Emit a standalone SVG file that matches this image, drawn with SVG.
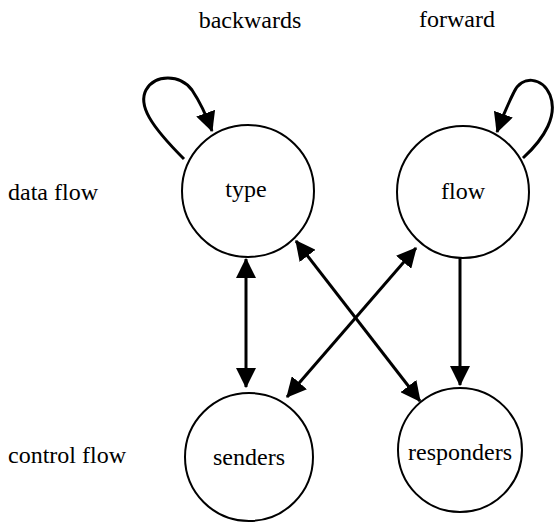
<svg xmlns="http://www.w3.org/2000/svg" width="558" height="529" viewBox="0 0 558 529">
<style>
.node circle{fill:#fff;stroke:#000;stroke-width:2}
text{font-family:"Liberation Serif","Times New Roman",serif;font-size:24px;fill:#000}
.c{text-anchor:middle}
#connectors path{fill:none;stroke:#000;stroke-width:3}
</style>
<defs>
<marker id="ah" markerUnits="userSpaceOnUse" markerWidth="20" markerHeight="20" viewBox="0 0 18 18" refX="17" refY="9" orient="auto-start-reverse"><path d="M0,0 L18,9 L0,18 z" fill="#000"/></marker>
</defs>
<g id="labels">
<text class="c" x="250" y="28">backwards</text>
<text class="c" x="457" y="27">forward</text>
<text x="8" y="200">data flow</text>
<text x="8" y="463">control flow</text>
</g>
<g id="node-type" class="node"><circle cx="248" cy="191" r="66"/><text class="c" x="246" y="197">type</text></g>
<g id="node-flow" class="node"><circle cx="463" cy="192" r="66"/><text class="c" x="463" y="199">flow</text></g>
<g id="node-senders" class="node"><circle cx="249" cy="457" r="64"/><text class="c" x="249" y="465">senders</text></g>
<g id="node-responders" class="node"><circle cx="460" cy="450" r="62"/><text class="c" x="460" y="460">responders</text></g>
<g id="connectors">
<path d="M184,159 C150,125 138,105 146,90 C155,74 180,74 192,90 C200,102 207,117 212,131" marker-end="url(#ah)"/>
<path d="M523,158 C545,138 558,115 550,95 C542,77 522,75 514,92 C508,104 502,118 497,132" marker-end="url(#ah)"/>
<path d="M246,259 L246,387" marker-start="url(#ah)" marker-end="url(#ah)"/>
<path d="M460,257 L460,385" marker-end="url(#ah)"/>
<path d="M296,241 L420,401" marker-start="url(#ah)" marker-end="url(#ah)"/>
<path d="M416,248 L287,397" marker-start="url(#ah)" marker-end="url(#ah)"/>
</g>
</svg>
